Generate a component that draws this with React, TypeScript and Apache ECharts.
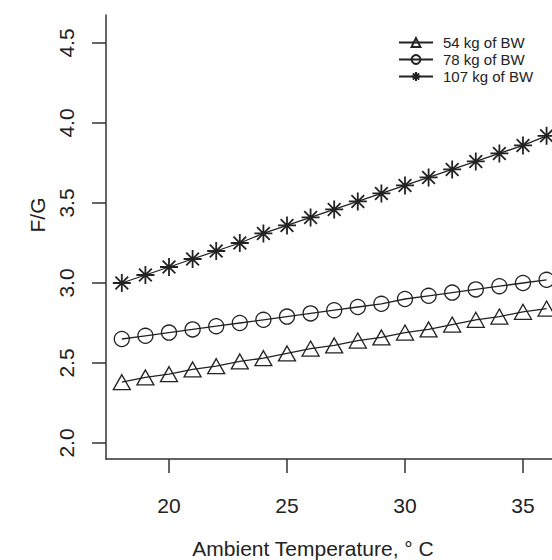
import React, { useEffect, useRef } from "react";
import * as echarts from "echarts";

const temperatures = [18, 19, 20, 21, 22, 23, 24, 25, 26, 27, 28, 29, 30, 31, 32, 33, 34, 35, 36];
const fg54 = [2.38, 2.41, 2.43, 2.46, 2.48, 2.51, 2.53, 2.56, 2.59, 2.61, 2.64, 2.66, 2.69, 2.71, 2.74, 2.77, 2.79, 2.82, 2.84];
const fg78 = [2.65, 2.67, 2.69, 2.71, 2.73, 2.75, 2.77, 2.79, 2.81, 2.83, 2.85, 2.87, 2.9, 2.92, 2.94, 2.96, 2.98, 3.0, 3.02];
const fg107 = [3.0, 3.05, 3.1, 3.15, 3.2, 3.25, 3.31, 3.36, 3.41, 3.46, 3.51, 3.56, 3.61, 3.66, 3.71, 3.76, 3.81, 3.86, 3.92];
const seriesNames = ["54 kg of BW", "78 kg of BW", "107 kg of BW"];
const xTicks = [20, 25, 30, 35];
const yTicks = [2.0, 2.5, 3.0, 3.5, 4.0, 4.5];
const xTitle = "Ambient Temperature, \u00b0 C";
const yTitle = "F/G";

const FONT = '"Liberation Sans", Arial, Helvetica, sans-serif';
const INK = "#222";
const STAR = "path://M0,-1L0,1M-1,0L1,0M-0.707,-0.707L0.707,0.707M-0.707,0.707L0.707,-0.707";

export default function App() {
  const ref = useRef<HTMLDivElement>(null);
  useEffect(() => {
    if (!ref.current) return;
    const chart = echarts.init(ref.current, null, { renderer: "svg" });
    const pair = (vals: number[]) => temperatures.map((t, i) => [t, vals[i]]);
    const mk = (name: string, vals: number[], symbol: string, size: any, bw: number) => ({
      name,
      type: "line",
      data: pair(vals),
      symbol,
      symbolSize: size,
      showAllSymbol: true,
      clip: true,
      lineStyle: { color: INK, width: 1.3 },
      itemStyle: { color: "rgba(255,255,255,0)", borderColor: INK, borderWidth: bw },
      emphasis: { disabled: true },
    });
    chart.setOption({
      animation: false,
      backgroundColor: "#fff",
      textStyle: { fontFamily: FONT },
      grid: { left: 106, right: 0, top: 15, bottom: 101, outerBoundsMode: "none" },
      xAxis: {
        type: "value",
        min: 17.33,
        max: 36.23,
        axisLine: { show: true, lineStyle: { color: "#333", width: 1.5 } },
        axisTick: { show: true, length: 14, customValues: xTicks, lineStyle: { color: "#333", width: 1.5 } },
        axisLabel: {
          customValues: xTicks,
          margin: 36,
          fontSize: 21,
          color: INK,
          fontFamily: FONT,
          formatter: (v: number) => String(v),
        },
        splitLine: { show: false },
      },
      yAxis: {
        type: "value",
        min: 1.9,
        max: 4.675,
        axisLine: { show: true, lineStyle: { color: "#333", width: 1.5 } },
        axisTick: { show: true, length: 14, customValues: yTicks, lineStyle: { color: "#333", width: 1.5 } },
        axisLabel: {
          customValues: yTicks,
          rotate: 90,
          margin: 29,
          fontSize: 21,
          color: INK,
          fontFamily: FONT,
          formatter: (v: number) => v.toFixed(1),
        },
        splitLine: { show: false },
      },
      legend: {
        orient: "vertical",
        left: 393,
        top: 30,
        itemWidth: 34,
        itemHeight: 11,
        itemGap: 2,
        data: seriesNames,
        textStyle: { fontSize: 15, color: INK, fontFamily: FONT, padding: [0, 0, 0, 5] },
      },
      series: [
        mk(seriesNames[0], fg54, "triangle", [17, 15], 1.3),
        mk(seriesNames[1], fg78, "circle", 15, 1.3),
        mk(seriesNames[2], fg107, STAR, 18, 1.8),
      ],
      graphic: [
        {
          type: "text",
          x: 37,
          y: 215,
          rotation: Math.PI / 2,
          style: { text: yTitle, fontSize: 21, fontFamily: FONT, fill: INK, align: "center", verticalAlign: "middle" },
        },
        {
          type: "text",
          x: 313,
          y: 548,
          style: { text: xTitle, fontSize: 21, fontFamily: FONT, fill: INK, align: "center", verticalAlign: "middle" },
        },
      ],
    });
    return () => chart.dispose();
  }, []);
  return (
    <div
      ref={ref}
      style={{ position: "fixed", left: 0, top: 0, width: 552, height: 560, background: "#fff" }}
    />
  );
}
